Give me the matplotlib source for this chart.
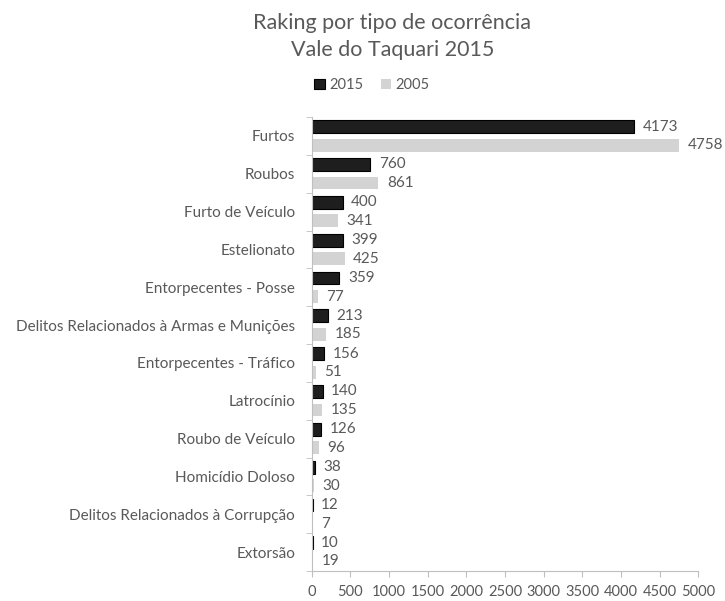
import numpy as np
import matplotlib
matplotlib.use("Agg")
import matplotlib.pyplot as plt
from matplotlib.ticker import MultipleLocator, FixedLocator

categorias = ["Furtos", "Roubos", "Furto de Veículo", "Estelionato",
              "Entorpecentes - Posse", "Delitos Relacionados à Armas e Munições",
              "Entorpecentes - Tráfico", "Latrocínio", "Roubo de Veículo",
              "Homicídio Doloso", "Delitos Relacionados à Corrupção", "Extorsão"]
v2015 = [4173, 760, 400, 399, 359, 213, 156, 140, 126, 38, 12, 10]
v2005 = [4758, 861, 341, 425, 77, 185, 51, 135, 96, 30, 7, 19]

plt.rcParams['font.family'] = ['Lato', 'DejaVu Sans']
txt = '#595959'

fig = plt.figure(figsize=(7.25, 6.01), dpi=100)
ax = fig.add_axes([0.430, 0.0499, 0.533, 0.7554])

y = np.arange(len(categorias))
h = 0.34
off = 0.245
ax.barh(y - off, v2015, height=h, color='#1e1e1e', edgecolor='#000000', linewidth=0.8, label='2015')
ax.barh(y + off, v2005, height=h, color='#d3d3d3', label='2005')

for yi, a, b in zip(y, v2015, v2005):
    ax.text(a + 110, yi - off, str(a), va='center', ha='left', fontsize=11, color=txt)
    ax.text(b + 110, yi + off, str(b), va='center', ha='left', fontsize=11, color=txt)

ax.set_xlim(0, 5000)
ax.set_ylim(len(categorias) - 0.5, -0.5)
ax.xaxis.set_major_locator(MultipleLocator(500))
ax.set_yticks(y)
ax.set_yticklabels(categorias)
ax.yaxis.set_minor_locator(FixedLocator(np.arange(-0.5, len(categorias), 1)))
ax.tick_params(axis='y', which='major', length=0, pad=12, labelsize=11, labelcolor=txt)
ax.tick_params(axis='y', which='minor', length=4, color='#bfbfbf', direction='out')
ax.tick_params(axis='x', length=4, color='#bfbfbf', labelsize=10.5, labelcolor=txt, pad=6)

for s in ['top', 'right']:
    ax.spines[s].set_visible(False)
for s in ['left', 'bottom']:
    ax.spines[s].set_color('#bfbfbf')

fig.text(0.541, 0.962, 'Raking por tipo de ocorrência', ha='center', va='center', fontsize=15.5, color=txt)
fig.text(0.541, 0.917, 'Vale do Taquari 2015', ha='center', va='center', fontsize=15.5, color=txt)

leg = fig.legend(loc='center', bbox_to_anchor=(0.513, 0.858), ncol=2, frameon=False,
                 fontsize=10.5, handlelength=0.7, handleheight=0.7, handletextpad=0.3,
                 columnspacing=1.2)
for t in leg.get_texts():
    t.set_color(txt)

fig.savefig('out.png', dpi=100)
